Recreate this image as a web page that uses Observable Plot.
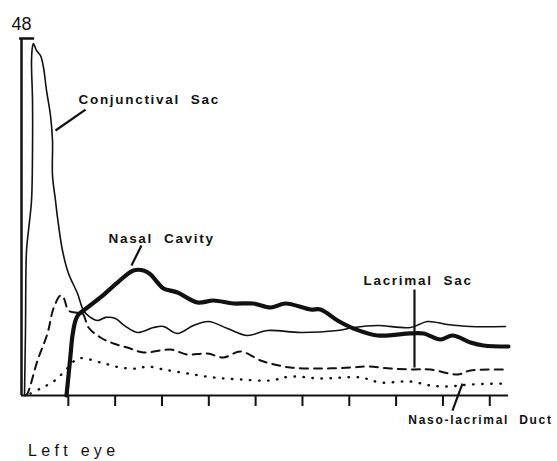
<!DOCTYPE html>
<html><head><meta charset="utf-8">
<script src="https://cdn.jsdelivr.net/npm/d3@7"></script>
<script src="https://cdn.jsdelivr.net/npm/@observablehq/plot@0.6"></script>
<style>
body{margin:0;background:#fff;}
#wrap{position:relative;width:557px;height:461px;overflow:hidden;}
#cap{position:absolute;left:28px;top:443px;font:16px "Liberation Sans",Arial,sans-serif;line-height:16px;letter-spacing:4.3px;color:#111;}
</style></head><body>
<div id="wrap"><div id="chart"></div><div id="cap">Left eye</div></div>
<script>
// x in tick units (unlabelled time axis), y in counts (top = 48)
const conjunctivalSac = [
  [0.064,0],[0.085,8.74],[0.107,19.5],[0.149,22.18],[0.214,26.22],[0.235,32.94],[0.235,39.66],
  [0.214,45.04],[0.235,46.92],[0.256,47.33],[0.32,46.39],[0.406,45.71],[0.47,44.1],[0.534,41.01],
  [0.619,37.65],[0.662,34.29],[0.662,29.58],[0.726,26.22],[0.769,23.93],[0.875,19.5],[1.004,16.4],
  [1.196,13.71],[1.324,11.43],[1.45,10.6],[1.623,10.08],[1.8,10.5],[2.007,10.35],[2.2,9.4],[2.477,8.47],
  [2.819,9.14],[3.032,9.28],[3.331,8.34],[3.673,9.41],[3.993,9.95],[4.399,9.01],[4.826,8.07],
  [5.253,8.74],[5.958,8.47],[6.748,8.74],[7.089,9.14],[7.602,9.41],[8.307,9.14],[8.67,9.95],
  [9.097,9.55],[9.588,9.28],[10.335,9.28]
];
const nasalCavity = [
  [0.961,0],[1.004,2.69],[1.046,5.38],[1.089,8.07],[1.153,10.08],[1.217,10.89],[1.324,11.43],
  [1.687,13.18],[2.05,15.19],[2.392,16.81],[2.605,16.81],[2.755,16.27],[2.904,15.19],[3.032,14.39],
  [3.331,13.85],[3.758,12.5],[4.1,12.77],[4.527,12.37],[4.954,12.37],[5.317,11.83],[5.637,12.37],
  [6.171,11.56],[6.385,11.56],[6.748,10.08],[7.089,9.01],[7.602,8.07],[8.307,8.34],[8.584,8.34],
  [8.947,7.53],[9.203,8.07],[9.588,7.13],[9.866,6.72],[10.399,6.59]
];
const lacrimalSac = [
  [0.085,0],[0.128,0.27],[0.342,4.71],[0.555,8.34],[0.683,11.7],[0.833,13.45],[0.897,13.18],
  [1.004,11.43],[1.153,11.16],[1.303,11.03],[1.431,9.14],[1.687,7.8],[1.965,6.99],[2.263,6.45],
  [2.605,5.78],[3.182,6.18],[3.545,5.51],[3.972,5.65],[4.313,5.11],[4.676,5.92],[5.103,4.71],
  [5.317,4.3],[5.744,3.76],[6.385,3.63],[7.025,3.76],[7.388,3.9],[7.88,3.63],[8.371,3.5],
  [8.734,3.5],[9.31,2.82],[9.588,3.36],[10.399,3.5]
];
const nasoLacrimalDuct = [
  [0.192,0.27],[0.406,0.94],[0.683,1.88],[0.897,3.09],[1.217,4.97],[1.687,4.44],[2.114,3.76],
  [2.477,3.63],[2.691,3.9],[3.032,3.5],[3.545,2.96],[4.1,2.42],[4.676,2.15],[5.317,2.02],
  [5.744,2.55],[6.385,2.29],[7.239,2.42],[7.666,1.75],[8.307,1.88],[8.734,1.34],[9.097,1.21],
  [9.588,1.48],[10.378,1.61]
];
const tickValues = [1,2,3,4,5,6,7,8,9,10];
const yTopLabel = ["48"];
const yTop = 48;
const labels = [
  {text:"Conjunctival  Sac", x:1.217, y:39.26, size:13.5},
  {text:"Nasal  Cavity", x:1.858, y:20.57, size:13.5},
  {text:"Lacrimal  Sac", x:7.303, y:14.79, size:13.5},
  {text:"Naso-lacrimal  Duct", x:8.26, y:-3.8, size:12}
];
const pointers = [
  {x1:1.367, y1:38.45, x2:0.726, y2:35.63},
  {x1:2.562, y1:20.17, x2:2.349, y2:17.48},
  {x1:8.392, y1:14.25, x2:8.392, y2:3.76},
  {x1:9.417, y1:1.61, x2:9.203, y2:-2.02}
];

const ink = "#111";
const fx = d => d[0], fy = d => d[1];
const chart = Plot.plot({
  width: 557, height: 428,
  marginLeft: 21, marginRight: 49, marginTop: 38, marginBottom: 33,
  x: {domain: [0, 10.4], axis: null},
  y: {domain: [0, 48], axis: null},
  style: {background: "#fff", color: ink},
  marks: [
    Plot.ruleY([0], {x1: 0, x2: 10.4, stroke: ink, strokeWidth: 2}),
    Plot.ruleX([0], {y1: 0, y2: yTop, stroke: ink, strokeWidth: 2.5}),
    Plot.ruleY([yTop], {x1: -0.04, x2: 0.28, stroke: ink, strokeWidth: 2.5}),
    Plot.axisX({ticks: tickValues, tickSize: 11, tickFormat: () => "", stroke: ink, strokeWidth: 2, anchor: "bottom"}),
    Plot.text(yTopLabel, {x: 0, y: yTop, text: d => d, dy: -9, lineAnchor: "bottom", textAnchor: "middle", fontSize: 18, fontFamily: "Liberation Sans", fill: ink}),
    Plot.line(nasoLacrimalDuct, {x: fx, y: fy, curve: "catmull-rom", stroke: ink, strokeWidth: 2.4, strokeDasharray: "0.5 8.5", strokeLinecap: "round"}),
    Plot.line(lacrimalSac, {x: fx, y: fy, curve: "catmull-rom", stroke: ink, strokeWidth: 2, strokeDasharray: "8 6"}),
    Plot.line(conjunctivalSac, {x: fx, y: fy, curve: "catmull-rom", stroke: ink, strokeWidth: 1.6}),
    Plot.line(nasalCavity, {x: fx, y: fy, curve: "catmull-rom", stroke: ink, strokeWidth: 4.2, strokeLinecap: "round"}),
    Plot.link(pointers, {x1: "x1", y1: "y1", x2: "x2", y2: "y2", stroke: ink, strokeWidth: 2.2}),
    Plot.text(labels, {x: "x", y: "y", text: "text", fontSize: "size", textAnchor: "start", lineAnchor: "bottom", fontWeight: "bold", fontFamily: "Liberation Sans", fill: ink})
  ]
});
document.getElementById("chart").appendChild(chart);
const labelTexts = labels.map(d => d.text);
d3.select(chart).selectAll("text")
  .filter(function() { return labelTexts.includes(this.textContent); })
  .style("letter-spacing", "1.7px").style("white-space", "pre");
</script>
</body></html>
